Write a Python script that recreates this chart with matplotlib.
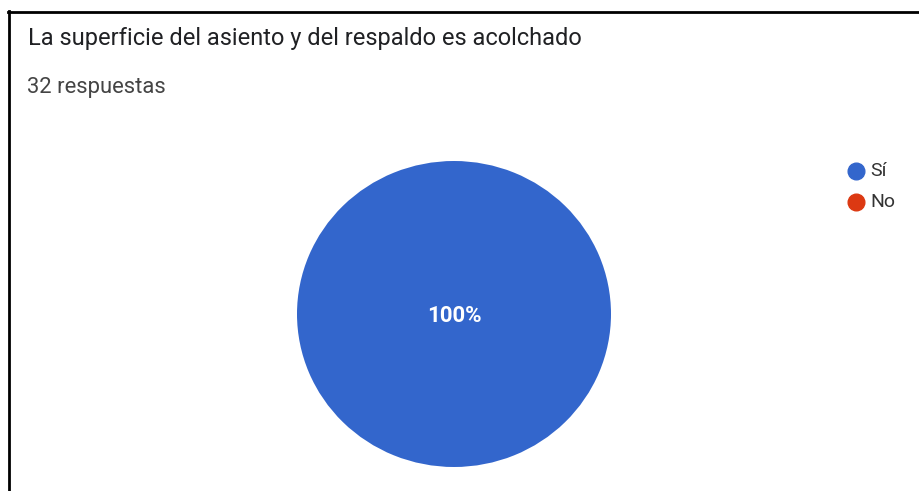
import matplotlib.pyplot as plt
from matplotlib.lines import Line2D

plt.rcParams['font.family'] = ['Roboto', 'DejaVu Sans']

title = 'La superficie del asiento y del respaldo es acolchado'
subtitle = '32 respuestas'
labels = ['Sí', 'No']
counts = [32, 0]
colors = ['#3366CC', '#DC3912']

W, H = 919, 491
fig = plt.figure(figsize=(W / 100, H / 100), dpi=100)

# pie box in pixels: x 297..611, y 161..467 (slightly wider than tall)
px0, px1, py0, py1 = 297, 611, 161, 467
ax = fig.add_axes([px0 / W, (H - py1) / H, (px1 - px0) / W, (py1 - py0) / H])
total = sum(counts)
ax.pie(counts, colors=colors, startangle=90, counterclock=False,
       radius=1, wedgeprops=dict(linewidth=0))
ax.set_xlim(-1, 1)
ax.set_ylim(-1, 1)
ax.set_aspect('auto')
ax.axis('off')

# percentage label on the only non-empty slice
ax.text(0, -0.01, f'{counts[0] / total * 100:.0f}%', color='white',
        ha='center', va='center', fontsize=16, fontweight='bold')

fig.text(28 / W, 1 - 38 / H, title, fontsize=17, color='#202124',
         ha='left', va='center')
fig.text(27 / W, 1 - 87 / H, subtitle, fontsize=15.8, color='#444444',
         ha='left', va='center')

# legend: circle markers with labels to the right
for i, (lab, c) in enumerate(zip(labels, colors)):
    y = 1 - (171 + 31 * i) / H
    fig.add_artist(Line2D([856 / W], [y], transform=fig.transFigure,
                          marker='o', markersize=12, linestyle='none',
                          markerfacecolor=c, markeredgecolor=c))
    fig.text(870 / W, y, lab, fontsize=14, color='#333333',
             ha='left', va='center')

# black frame along the top and left edges
fig.add_artist(Line2D([8 / W, 1], [1 - 11.5 / H, 1 - 11.5 / H],
                      transform=fig.transFigure, color='black', linewidth=2))
fig.add_artist(Line2D([9 / W, 9 / W], [0, 1 - 11 / H],
                      transform=fig.transFigure, color='black', linewidth=2))

fig.savefig('out.png', dpi=100, facecolor='white')
